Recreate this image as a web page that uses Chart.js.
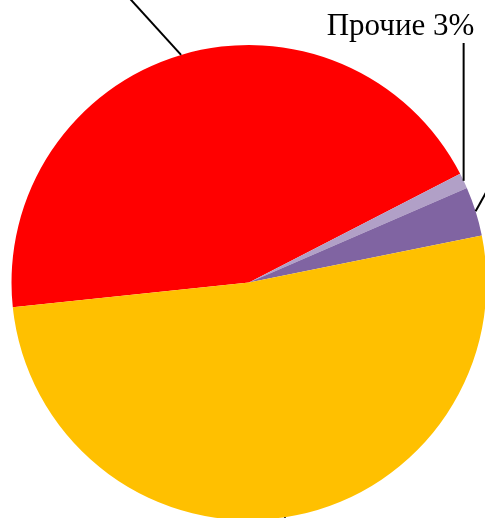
<!DOCTYPE html>
<html>
<head>
<meta charset="utf-8">
<script src="https://cdn.jsdelivr.net/npm/chart.js@4"></script>
<style>
  html, body { margin: 0; padding: 0; background: #ffffff; overflow: hidden; }
  #wrap { position: absolute; left: 0; top: 0; width: 490px; height: 525px; }
  canvas { display: block; }
</style>
</head>
<body>
<div id="wrap"><canvas id="c" width="490" height="525"></canvas></div>
<script>
// ---- data ----
const categories = ['Сегмент 1', 'Прочие', 'Сегмент 2', 'Сегмент 3'];
const values = [44.1, 1.05, 3.35, 51.5];
const sliceColors = ['#FF0000', '#B1A0C7', '#8064A2', '#FFC000'];
const visibleLabels = ['', 'Прочие 3%', '', ''];

// leader lines and the one visible label (layout only)
const leaderPlugin = {
  id: 'leaders',
  afterDatasetsDraw(chart) {
    const ctx = chart.ctx;
    const meta = chart.getDatasetMeta(0);
    ctx.save();
    ctx.strokeStyle = '#000000';
    ctx.lineWidth = 2;
    meta.data.forEach((arc, i) => {
      const p = arc.getProps(['x', 'y', 'startAngle', 'endAngle', 'outerRadius'], true);
      const mid = (p.startAngle + p.endAngle) / 2;
      const ex = p.x + Math.cos(mid) * p.outerRadius;
      const ey = p.y + Math.sin(mid) * p.outerRadius;
      ctx.beginPath();
      ctx.moveTo(ex, ey);
      if (i === 0) {
        ctx.lineTo(ex - 70, ey - 77);
      } else if (i === 1) {
        ctx.lineTo(ex, 43);
      } else if (i === 2) {
        ctx.lineTo(ex + 20, ey - 36);
      } else {
        ctx.lineTo(ex + 2, ey + 20);
      }
      ctx.stroke();
      if (visibleLabels[i]) {
        ctx.fillStyle = '#000000';
        ctx.font = '31px "Liberation Serif", "Times New Roman", serif';
        ctx.textAlign = 'center';
        ctx.textBaseline = 'alphabetic';
        ctx.fillText(visibleLabels[i], 400.5, 35);
      }
    });
    ctx.restore();
  }
};

new Chart(document.getElementById('c'), {
  type: 'pie',
  data: {
    labels: categories,
    datasets: [{
      data: values,
      backgroundColor: sliceColors,
      borderWidth: 0,
      hoverOffset: 0,
      offset: 0
    }]
  },
  options: {
    responsive: false,
    animation: false,
    rotation: 264,
    layout: { padding: { left: 11.5, right: 3.5, top: 45, bottom: 5 } },
    plugins: {
      legend: { display: false },
      tooltip: { enabled: false }
    }
  },
  plugins: [leaderPlugin]
});
</script>
</body>
</html>
